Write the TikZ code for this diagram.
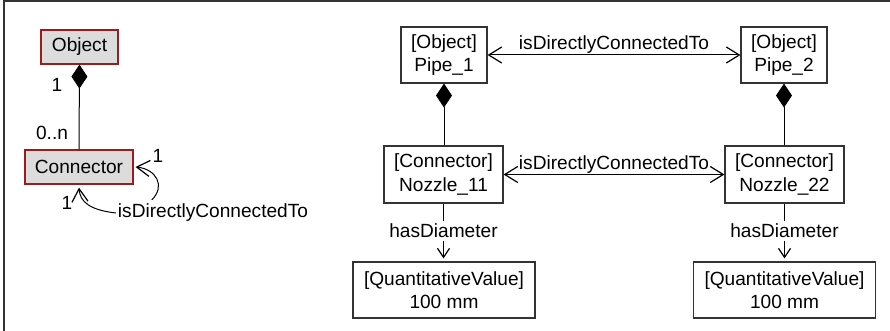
\documentclass[tikz,border=0pt]{standalone}
\usepackage{fontspec}
\setmainfont{Liberation Sans}
\usetikzlibrary{arrows.meta,positioning}
\definecolor{clsred}{HTML}{9B1C1C}
\definecolor{clsgray}{HTML}{DCDCDC}

\begin{document}
\begin{tikzpicture}[x=1pt,y=-1pt,
  every node/.style={font=\fontsize{19.1pt}{23.5pt}\selectfont},
  cls/.style={draw=clsred,fill=clsgray,line width=1.2pt,inner sep=0pt,minimum height=34pt},
  inst/.style={draw=black!80,line width=1.2pt,align=center,inner sep=0pt,minimum height=56pt},
  comp/.style={{Diamond[length=24pt,width=16pt]}-,line width=1pt},
  rel/.style={line width=1pt,>={Straight Barb[length=13pt,width=16pt,line width=1.2pt]}},
  prop/.style={line width=1pt,>={Straight Barb[length=9pt,width=12pt,line width=1.2pt]}}]
\useasboundingbox (0,0) rectangle (890,331);
\draw[line width=2pt,black!80] (3.5,331) -- (3.5,1.5) -- (890,1.5);
% class level
\node[cls,minimum width=77pt] (obj) at (79.5,47) {Object};
\node[cls,minimum width=108pt] (con) at (79,167) {Connector};
\draw[comp] (obj.south) -- (con.north);
\node (m1) at (57,85) {1};
\node (m0n) at (52,133) {0..n};
\node[inner sep=2pt] (loop) at (213,213) {isDirectlyConnectedTo};
\draw[rel,->] (loop.west) .. controls (90,210) and (80,202) .. ([yshift=-3pt]con.south);
\draw[rel,->] ([xshift=36pt,yshift=2pt]loop.north west) .. controls (166,186) and (156,169) .. ([xshift=2pt]con.east);
\node (m1r) at (158,156) {1};
\node (m1b) at (67,203) {1};
% instance level
\node[inst,minimum width=86pt] (p1) at (444,55) {[Object]\\Pipe\_1};
\node[inst,minimum width=86pt] (p2) at (784,55) {[Object]\\Pipe\_2};
\node[inst,minimum width=119pt,minimum height=57pt] (n11) at (443.5,174.5) {[Connector]\\Nozzle\_11};
\node[inst,minimum width=119pt,minimum height=57pt] (n22) at (784.5,174.5) {[Connector]\\Nozzle\_22};
\node[inst,minimum width=182pt] (v1) at (444,290) {[QuantitativeValue]\\100 mm};
\node[inst,minimum width=182pt] (v2) at (784.5,290) {[QuantitativeValue]\\100 mm};
\draw[rel,<->] (p1) -- node[above,inner sep=1pt] (c1) {isDirectlyConnectedTo} (p2);
\draw[rel,<->] (n11) -- node[above,inner sep=1pt] (c2) {isDirectlyConnectedTo} (n22);
\draw[comp] (p1.south) -- (p1.south |- n11.north);
\draw[comp] (p2.south) -- (p2.south |- n22.north);
\draw[prop,->] (n11.south) -- node[fill=white,inner sep=3pt] (d1) {hasDiameter} ([yshift=3pt]n11.south |- v1.north);
\draw[prop,->] (n22.south) -- node[fill=white,inner sep=3pt] (d2) {hasDiameter} ([yshift=3pt]n22.south |- v2.north);
\end{tikzpicture}
\end{document}
